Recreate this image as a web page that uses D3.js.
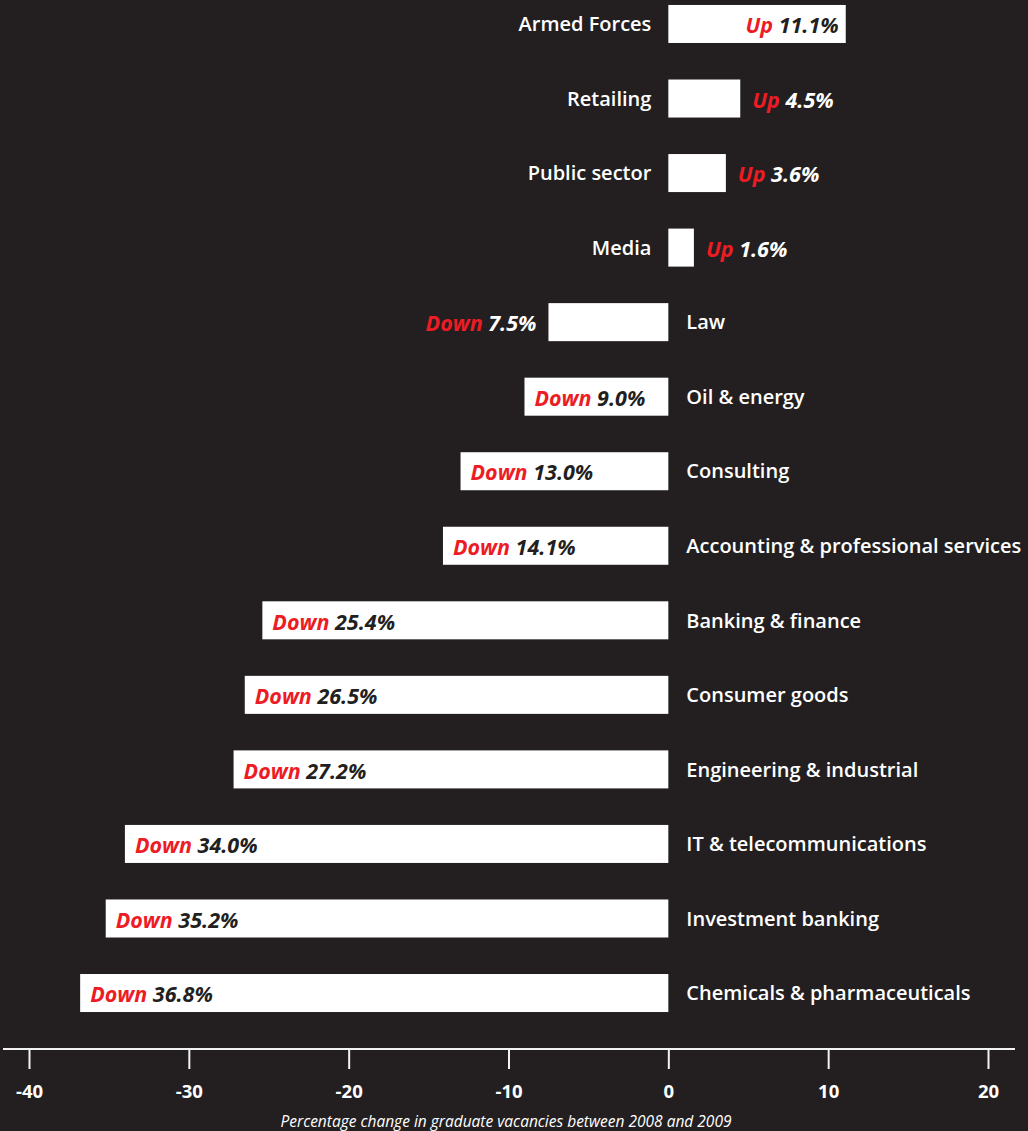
<!DOCTYPE html>
<html>
<head>
<meta charset="utf-8">
<script src="https://cdn.jsdelivr.net/npm/d3@7"></script>
<style>
  html, body { margin: 0; padding: 0; background: #231f20; }
  svg { display: block; }
</style>
</head>
<body>
<svg id="chart" width="1028" height="1131"></svg>
<script>
// Sectors, ordered top to bottom
const categories = [
  "Armed Forces", "Retailing", "Public sector", "Media", "Law", "Oil & energy",
  "Consulting", "Accounting & professional services", "Banking & finance",
  "Consumer goods", "Engineering & industrial", "IT & telecommunications",
  "Investment banking", "Chemicals & pharmaceuticals"
];
// Percentage change in graduate vacancies, 2008 to 2009
const changes = [11.1, 4.5, 3.6, 1.6, -7.5, -9.0, -13.0, -14.1, -25.4, -26.5, -27.2, -34.0, -35.2, -36.8];
const tickValues = [-40, -30, -20, -10, 0, 10, 20];
const axisTitle = "Percentage change in graduate vacancies between 2008 and 2009";

const BG = "#231f20", RED = "#ed1c24", WHITE = "#ffffff";
const FONT = "'Open Sans', 'Noto Sans', sans-serif";

const svg = d3.select("#chart");
svg.append("rect").attr("width", 1028).attr("height", 1131).attr("fill", BG);

const x = d3.scaleLinear().domain([-40, 20]).range([29, 988]);
const y = d3.scaleBand().domain(categories).range([-13.3, 1030.3])
  .paddingInner(0.49).paddingOuter(0.245);

const data = categories.map((c, i) => ({ name: c, value: changes[i] }));
const x0 = x(0);

// Bars
svg.append("g").selectAll("rect").data(data).join("rect")
  .attr("x", d => x(Math.min(0, d.value)))
  .attr("y", d => y(d.name))
  .attr("width", d => Math.abs(x(d.value) - x0))
  .attr("height", y.bandwidth())
  .attr("fill", WHITE);

// Category names: on the opposite side of zero from the bar
svg.append("g").selectAll("text").data(data).join("text")
  .attr("x", d => d.value >= 0 ? x0 - 17 : x0 + 18)
  .attr("y", d => y(d.name) + y.bandwidth() / 2)
  .attr("dy", "0.36em")
  .attr("text-anchor", d => d.value >= 0 ? "end" : "start")
  .attr("fill", WHITE)
  .style("font-family", FONT)
  .style("font-weight", 600)
  .style("font-size", "20px")
  .text(d => d.name);

// Value labels: inside the bar when they fit, otherwise just beyond its end
const pad = 9, gap = 12;
const labels = svg.append("g").selectAll("text").data(data).join("text")
  .attr("y", d => y(d.name) + y.bandwidth() / 2 + 1.5)
  .attr("dy", "0.36em")
  .style("font-family", FONT)
  .style("font-weight", 700)
  .style("font-style", "italic")
  .style("font-size", "21.5px");

labels.append("tspan").attr("class", "dir").attr("fill", RED)
  .text(d => d.value >= 0 ? "Up" : "Down");
labels.append("tspan").attr("class", "num")
  .text(d => " " + Math.abs(d.value).toFixed(1) + "%");

labels.each(function(d) {
  const t = d3.select(this);
  const w = this.getComputedTextLength();
  const barW = Math.abs(x(d.value) - x0);
  const inside = w + 2 * pad <= barW;
  t.select(".num").attr("fill", inside ? BG : WHITE);
  if (d.value >= 0) {
    if (inside) t.attr("x", x(d.value) - 7).attr("text-anchor", "end");
    else t.attr("x", x(d.value) + gap).attr("text-anchor", "start");
  } else {
    if (inside) t.attr("x", x(d.value) + 10).attr("text-anchor", "start");
    else t.attr("x", x(d.value) - gap).attr("text-anchor", "end");
  }
});

// Axis
const axisY = 1049;
svg.append("line")
  .attr("x1", 3).attr("x2", 1015).attr("y1", axisY).attr("y2", axisY)
  .attr("stroke", "#f2f2f2").attr("stroke-width", 2);

const axis = svg.append("g").attr("transform", `translate(0,${axisY})`)
  .call(d3.axisBottom(x).tickValues(tickValues).tickSize(20).tickFormat(d => String(d)));
axis.select(".domain").remove();
axis.selectAll(".tick line").attr("stroke", "#f2f2f2").attr("stroke-width", 2);
axis.selectAll(".tick text")
  .attr("y", 49).attr("dy", 0)
  .attr("fill", WHITE)
  .style("font-family", FONT)
  .style("font-weight", 700)
  .style("font-size", "18.5px");

svg.append("text")
  .attr("x", 506).attr("y", 1127)
  .attr("text-anchor", "middle")
  .attr("fill", WHITE)
  .style("font-family", FONT)
  .style("font-style", "italic")
  .style("font-weight", 400)
  .style("font-size", "15.5px")
  .text(axisTitle);
</script>
</body>
</html>
